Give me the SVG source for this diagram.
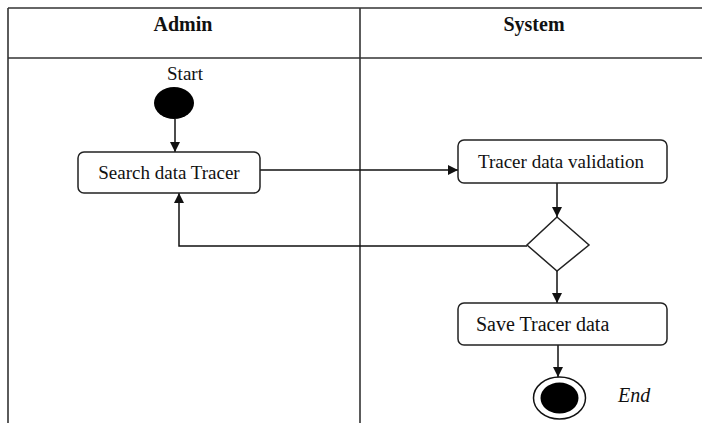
<svg xmlns="http://www.w3.org/2000/svg" width="702" height="423" viewBox="0 0 702 423">
<defs>
<style>
.lane{stroke:#333;stroke-width:1.6;fill:none}
.hdr{font-family:"Liberation Serif","Times New Roman",serif;font-weight:bold;font-size:20px;fill:#111;text-anchor:middle}
.txt{font-family:"Liberation Serif","Times New Roman",serif;font-size:19px;fill:#111}
.box{fill:#fff;stroke:#222;stroke-width:1.5}
.edge{stroke:#111;stroke-width:1.5;fill:none}
</style>
<marker id="arr" viewBox="0 0 10 10" refX="10" refY="5" markerWidth="10" markerHeight="10" markerUnits="userSpaceOnUse" orient="auto">
<path d="M0,0 L10,5 L0,10 z" fill="#111"/>
</marker>
</defs>
<rect width="702" height="423" fill="#fff"/>
<g id="swimlanes">
<line class="lane" x1="8" y1="8" x2="702" y2="8"/>
<line class="lane" x1="8" y1="58" x2="702" y2="58"/>
<line class="lane" x1="8" y1="8" x2="8" y2="423"/>
<line class="lane" x1="360" y1="8" x2="360" y2="423"/>
<text class="hdr" x="183" y="31">Admin</text>
<text class="hdr" x="534" y="31">System</text>
</g>
<g id="connectors">
<line class="edge" x1="175" y1="119" x2="175" y2="152" marker-end="url(#arr)"/>
<line class="edge" x1="260" y1="170" x2="458" y2="170" marker-end="url(#arr)"/>
<line class="edge" x1="557" y1="183" x2="557" y2="217" marker-end="url(#arr)"/>
<polyline class="edge" points="527,246 179,246 179,193" marker-end="url(#arr)"/>
<line class="edge" x1="557" y1="270" x2="557" y2="303" marker-end="url(#arr)"/>
<line class="edge" x1="558" y1="345" x2="558" y2="377" marker-end="url(#arr)"/>
</g>
<g id="start">
<text class="txt" x="185" y="80" text-anchor="middle">Start</text>
<ellipse cx="174" cy="103" rx="20" ry="16" fill="#000"/>
</g>
<g id="search">
<rect class="box" x="78" y="152" width="182" height="41" rx="6"/>
<text class="txt" x="169" y="179" text-anchor="middle">Search data Tracer</text>
</g>
<g id="validation">
<rect class="box" x="458" y="140" width="209" height="43" rx="6"/>
<text class="txt" x="561" y="168" text-anchor="middle">Tracer data validation</text>
</g>
<g id="decision">
<polygon class="box" points="557,217 589,245 557,271 527,245"/>
</g>
<g id="save">
<rect class="box" x="458" y="303" width="209" height="42" rx="6"/>
<text class="txt" x="476" y="331" style="font-size:20px">Save Tracer data</text>
</g>
<g id="end">
<ellipse cx="559.5" cy="398" rx="26" ry="21" fill="#fff" stroke="#111" stroke-width="1.5"/>
<ellipse cx="559.5" cy="398" rx="19" ry="15.5" fill="#000"/>
<text class="txt" x="618" y="402" style="font-style:italic;font-size:20px">End</text>
</g>
</svg>
